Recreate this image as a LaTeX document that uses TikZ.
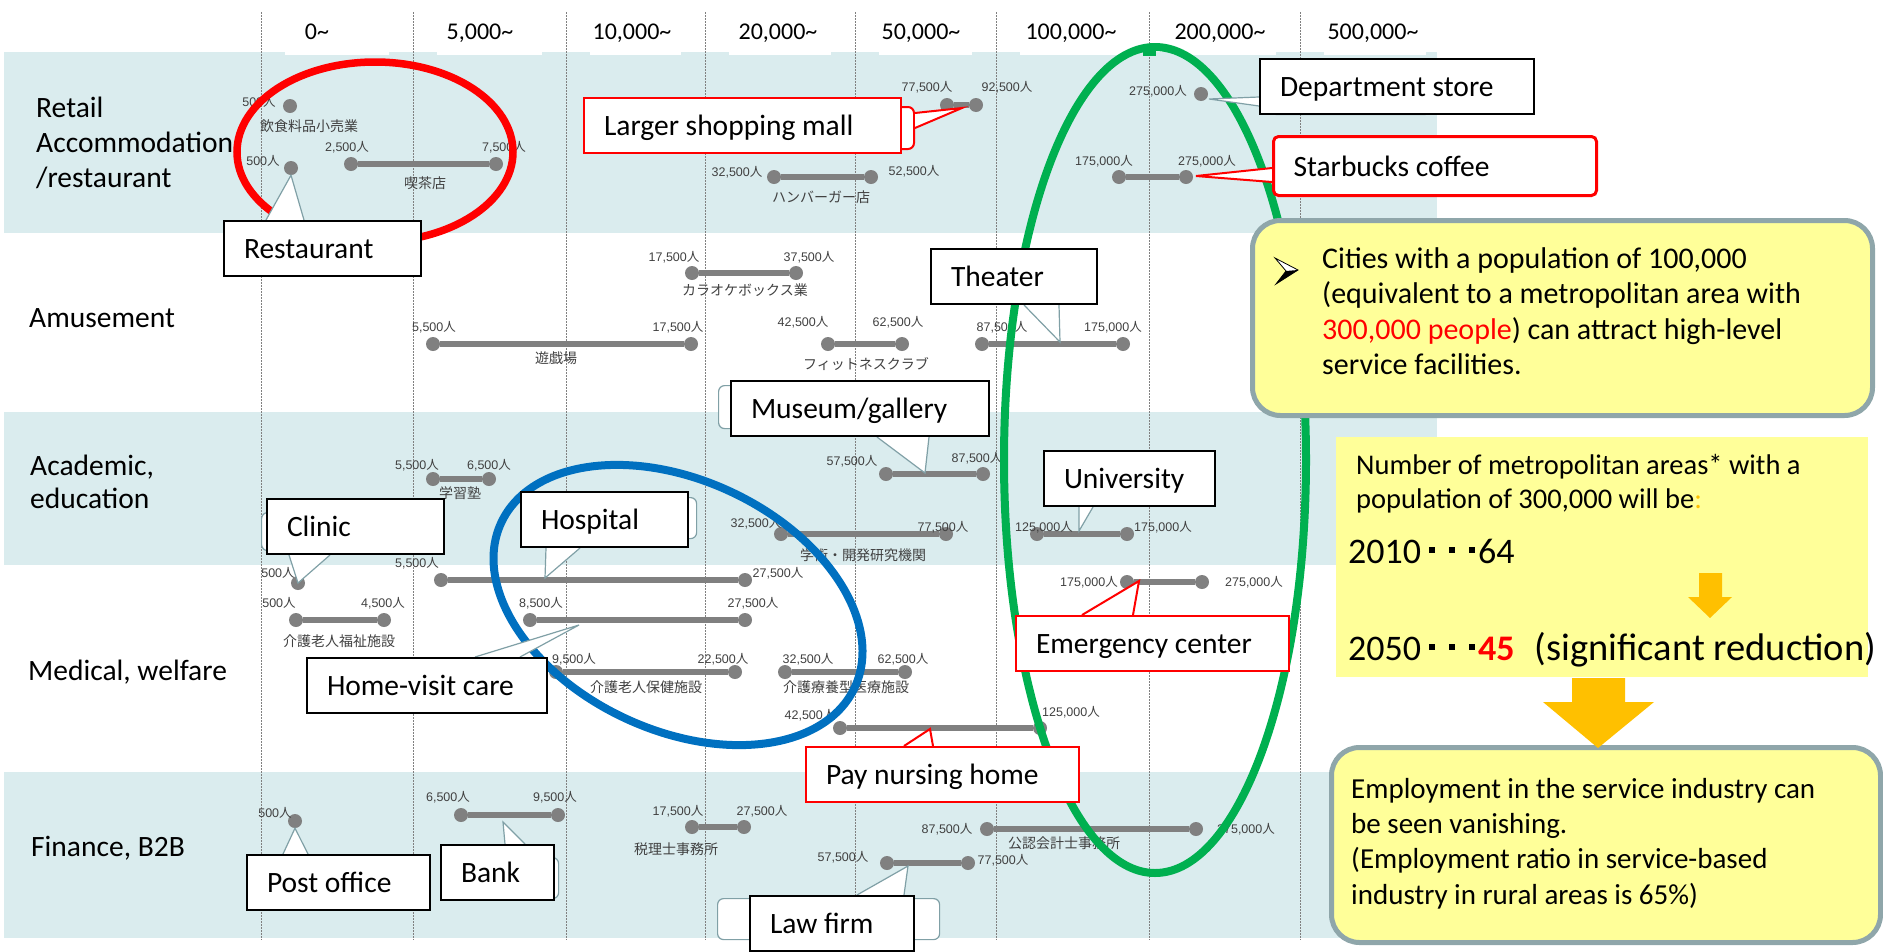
\documentclass[tikz,border=0pt]{standalone}
\usepackage{fontspec}
\setmainfont{Carlito}
\newfontfamily\numfont{Liberation Sans}
\newfontfamily\cjk{Noto Sans CJK JP}
\definecolor{band}{RGB}{218,236,238}
\definecolor{dotgray}{RGB}{128,128,128}
\definecolor{txtgray}{RGB}{64,64,64}
\definecolor{ptrcol}{RGB}{128,160,166}
\definecolor{ylw}{RGB}{255,255,153}
\definecolor{yborder}{RGB}{143,166,170}
\definecolor{orng}{RGB}{255,192,0}
\definecolor{gr}{RGB}{0,176,80}
\definecolor{bl}{RGB}{0,112,192}
\definecolor{rd}{RGB}{255,0,0}
\pgfdeclarelayer{L0}\pgfdeclarelayer{L1}\pgfdeclarelayer{L2}\pgfdeclarelayer{L3}
\pgfsetlayers{L0,L1,L2,L3,main}
\newcommand\jin{{\cjk 人}}
\newcommand\rng[4]{\node[dot] (#1a) at (#2,#4) {};\node[dot] (#1b) at (#3,#4) {};\draw[bar] (#1a) -- (#1b);}
\newcommand\lab[4]{\node[num] (#1) at (#2,#3) {#4};}
\newcommand\jl[4]{\node[jp] (#1) at (#2,#3) {#4};}
\newcommand\bx[2]{\makebox[#1pt][l]{#2}}
\newcommand\sqd{\kern8pt\rule[10pt]{6pt}{6pt}\kern14pt\rule[10pt]{6pt}{6pt}\kern14pt\rule[10pt]{6pt}{6pt}\kern3pt}
\begin{document}
\begin{tikzpicture}[x=1pt,y=-1pt,
 dot/.style={circle,fill=dotgray,minimum size=14pt,inner sep=0pt},
 bar/.style={draw=dotgray,line width=5.5pt},
 num/.style={font=\numfont\fontsize{12.5}{14}\selectfont,text=txtgray,inner sep=0pt},
 jp/.style={font=\cjk\fontsize{14}{16}\selectfont,text=txtgray,inner sep=0pt},
 hdr/.style={font=\fontsize{24}{26}\selectfont,anchor=base,inner sep=0pt},
 rowlab/.style={font=\fontsize{29.5}{31}\selectfont,anchor=base west,inner sep=0pt},
 ytxt/.style={font=\fontsize{29}{31}\selectfont,anchor=base west,inner sep=0pt},
 ybig/.style={font=\fontsize{36}{38}\selectfont,anchor=base west,inner sep=0pt},
 cbox/.style={draw=black,line width=2pt,fill=white,font=\fontsize{29.5}{31}\selectfont,anchor=north west,inner xsep=20pt,inner ysep=0pt,minimum height=55pt,text height=25pt,text depth=5pt},
 rbox/.style={cbox,draw=rd},
 ghost/.style={draw=ptrcol,line width=1.2pt,fill=white,rounded corners=6pt,inner sep=0pt,anchor=north west},
 ptr/.style={draw=ptrcol,line width=1.2pt,fill=white},
 rptr/.style={draw=rd,line width=2pt,fill=white},
 dotline/.style={draw=gray,line width=0.8pt,dash pattern=on 1.5pt off 1.5pt},
 ybox/.style={fill=ylw,anchor=north west,inner sep=0pt}
]
\useasboundingbox (0,0) rectangle (1883,951);
% ---------- background layer
\begin{pgfonlayer}{L0}
\fill[band] (4,52) rectangle (1437,233);
\fill[band] (4,412) rectangle (1437,565);
\fill[band] (4,772) rectangle (1437,938);
\foreach \a/\b in {261/413,413/566,566/705,705/855,855/996,996/1149,1149/1300,1300/1450}
  \fill[white] (\a+24,0) rectangle (\b-24,55);
\foreach \x in {261,413,566,705,855,996,1149,1300}
  \draw[dotline] (\x,12) -- (\x,940);
\node[hdr] (h0) at (317,39) {0\textasciitilde};
\node[hdr] (h1) at (480,39) {5,000\textasciitilde};
\node[hdr] (h2) at (632,39) {10,000\textasciitilde};
\node[hdr] (h3) at (778,39) {20,000\textasciitilde};
\node[hdr] (h4) at (921,39) {50,000\textasciitilde};
\node[hdr] (h5) at (1071,39) {100,000\textasciitilde};
\node[hdr] (h6) at (1220,39) {200,000\textasciitilde};
\node[hdr] (h7) at (1373,39) {500,000\textasciitilde};
\end{pgfonlayer}
% ---------- data layer
\begin{pgfonlayer}{L1}
% row 1
\node[dot] (r1s) at (290,106) {}; \lab{l1}{259}{102}{500\jin} \jl{j1}{309}{126}{飲食料品小売業}
\node[dot] (r2s) at (291,168) {}; \lab{l2}{263}{161}{500\jin}
\rng{kis}{351}{496}{164} \lab{l3}{347}{147}{2,500\jin} \lab{l4}{504}{147}{7,500\jin} \jl{j2}{425}{183}{喫茶店}
\rng{mal}{947}{976}{105} \lab{l5}{927}{87}{77,500\jin} \lab{l6}{1007}{87}{92,500\jin}
\rng{ham}{774}{871}{177} \lab{l7}{737}{172}{32,500\jin} \lab{l8}{914}{171}{52,500\jin} \jl{j3}{821}{197}{ハンバーガー店}
\node[dot] (dep) at (1201,94) {}; \lab{l9}{1158}{91}{275,000\jin}
\rng{sta}{1119}{1186}{177} \lab{l10}{1104}{161}{175,000\jin} \lab{l11}{1207}{161}{275,000\jin}
% row 2
\rng{kar}{692}{796}{273} \lab{l12}{674}{257}{17,500\jin} \lab{l13}{809}{257}{37,500\jin} \jl{j4}{745}{290}{カラオケボックス業}
\rng{yug}{433}{691}{344} \lab{l14}{434}{327}{5,500\jin} \lab{l15}{678}{327}{17,500\jin} \jl{j5}{556}{358}{遊戯場}
\rng{fit}{828}{902}{344} \lab{l16}{803}{322}{42,500\jin} \lab{l17}{898}{322}{62,500\jin} \jl{j6}{866}{364}{フィットネスクラブ}
\rng{the}{982}{1123}{344} \lab{l18}{1002}{327}{87,500\jin} \lab{l19}{1113}{327}{175,000\jin}
% row 3
\rng{gak}{433}{489}{479} \lab{l20}{417}{465}{5,500\jin} \lab{l21}{489}{465}{6,500\jin} \jl{j7}{460}{493}{学習塾}
\rng{mus}{886}{983}{474} \lab{l22}{852}{461}{57,500\jin} \lab{l23}{977}{458}{87,500\jin}
\rng{ken}{781}{946}{534} \lab{l24}{756}{523}{32,500\jin} \lab{l25}{943}{527}{77,500\jin} \jl{j8}{863}{555}{学術・開発研究機関}
\rng{uni}{1037}{1127}{534} \lab{l26}{1044}{527}{125,000\jin} \lab{l27}{1163}{527}{175,000\jin}
% row 4
\node[dot] (cli) at (298,583) {}; \lab{l28}{278}{573}{500\jin}
\rng{hos}{441}{745}{580} \lab{l29}{417}{563}{5,500\jin} \lab{l30}{778}{573}{27,500\jin}
\rng{fuk}{296}{384}{620} \lab{l31}{279}{603}{500\jin} \lab{l32}{383}{603}{4,500\jin} \jl{j9}{339}{641}{介護老人福祉施設}
\rng{hom}{530}{745}{620} \lab{l33}{541}{603}{8,500\jin} \lab{l34}{753}{603}{27,500\jin}
\rng{hok}{556}{735}{672} \lab{l35}{574}{659}{9,500\jin} \lab{l36}{723}{659}{22,500\jin} \jl{j10}{646}{687}{介護老人保健施設}
\rng{ryo}{785}{905}{672} \lab{l37}{808}{659}{32,500\jin} \lab{l38}{903}{659}{62,500\jin} \jl{j11}{846}{687}{介護療養型医療施設}
\rng{pay}{840}{1040}{728} \lab{l39}{810}{715}{42,500\jin} \lab{l40}{1071}{712}{125,000\jin}
\rng{eme}{1127}{1202}{582} \lab{l41}{1089}{582}{175,000\jin} \lab{l42}{1254}{582}{275,000\jin}
% row 5
\node[dot] (pos) at (295,821) {}; \lab{l43}{275}{813}{500\jin}
\rng{ban}{461}{558}{815} \lab{l44}{448}{797}{6,500\jin} \lab{l45}{555}{797}{9,500\jin}
\rng{zei}{692}{744}{827} \lab{l46}{678}{811}{17,500\jin} \lab{l47}{762}{811}{27,500\jin} \jl{j12}{676}{849}{税理士事務所}
\rng{kou}{987}{1196}{829} \lab{l48}{947}{829}{87,500\jin} \lab{l49}{1246}{829}{275,000\jin} \jl{j13}{1064}{843}{公認会計士事務所}
\rng{law}{887}{968}{863} \lab{l50}{843}{857}{57,500\jin} \lab{l51}{1003}{860}{77,500\jin}
\end{pgfonlayer}
% ---------- ellipses
\begin{pgfonlayer}{L2}
\draw[rd,line width=7.5pt] (375,152) ellipse [x radius=138pt, y radius=90pt];
\draw[bl,line width=8pt,rotate around={-25:(678,605)}] (678,605) ellipse [x radius=195pt, y radius=125pt];
\draw[gr,line width=8pt] (1155,460) ellipse [x radius=151pt, y radius=413pt];
\fill[gr] (1143,46) rectangle (1156,56);
\end{pgfonlayer}
% ---------- row labels
\node[rowlab] (rl1) at (36,117) {Retail};
\node[rowlab] (rl2) at (36,152) {Accommodation};
\node[rowlab] (rl3) at (36,187) {/restaurant};
\node[rowlab] (rl4) at (29,327) {Amusement};
\node[rowlab] (rl5) at (30,475) {Academic,};
\node[rowlab] (rl6) at (30,508) {education};
\node[rowlab] (rl7) at (28,680) {Medical, welfare};
\node[rowlab] (rl8) at (31,856) {Finance, B2B};
% ---------- callout boxes
\node[rbox] (mall) at (583,97) {\bx{277}{Larger shopping mall}};
\node[cbox] (dept) at (1259,58) {\bx{234}{Department store}};
\node[rbox,minimum height=59pt,rounded corners=5pt,line width=3pt] (star) at (1272,135) {\bx{283}{Starbucks coffee}};
\node[cbox] (rest) at (223,220) {\bx{157}{Restaurant}};
\node[cbox] (thea) at (930,248) {\bx{126}{Theater}};
\node[cbox] (muse) at (730,380) {\bx{218}{Museum/gallery}};
\node[cbox] (univ) at (1043,450) {\bx{131}{University}};
\node[cbox] (clin) at (266,498) {\bx{137}{Clinic}};
\node[cbox] (hosp) at (520,491) {\bx{127}{Hospital}};
\node[cbox] (home) at (306,657) {\bx{200}{Home-visit care}};
\node[rbox] (emer) at (1015,615) {\bx{233}{Emergency center}};
\node[rbox] (payn) at (805,746) {\bx{233}{Pay nursing home}};
\node[cbox] (post) at (246,854) {\bx{143}{Post office}};
\node[cbox] (bank) at (440,844) {\bx{73}{Bank}};
\node[cbox] (lawf) at (749,895) {\bx{124}{Law firm}};
% ---------- ghosts and pointers
\begin{pgfonlayer}{L3}
\node[ghost,draw=rd,line width=2pt,minimum width=323pt,minimum height=42pt] (mallg) at (590,106) {};
\node[ghost,minimum width=160pt,minimum height=44pt] (deptg) at (1270,70) {};
\node[ghost,minimum width=257pt,minimum height=43pt] (museg) at (718,385) {};
\node[ghost,minimum width=170pt,minimum height=38pt] (cling) at (261,512) {};
\node[ghost,minimum width=161pt,minimum height=41pt] (hospg) at (535,497) {};
\node[ghost,minimum width=108pt,minimum height=41pt] (bankg) at (450,857) {};
\node[ghost,minimum width=222pt,minimum height=41pt] (lawg) at (717,898) {};
\coordinate (tmall) at (962,108);
\coordinate (tdept) at (1209,99);
\coordinate (tstar) at (1196,176);
\coordinate (tthea) at (1060,342);
\coordinate (tmuse) at (925,473);
\coordinate (tuniv) at (1079,531);
\coordinate (thosp) at (545,578);
\coordinate (thome) at (579,625);
\coordinate (tbank) at (503,822);
\coordinate (tlaw) at (908,866);
\coordinate (temer) at (1139,581);
\coordinate (tpay) at (930,729);
\filldraw[rptr] ([yshift=-7pt]mallg.north east) -- (tmall) -- ([yshift=-22pt]mallg.north east);
\filldraw[ptr] ([yshift=-39pt]dept.north west) -- (tdept) -- ([yshift=-48pt]dept.north west);
\filldraw[rptr] ([yshift=-33pt]star.north west) -- (tstar) -- ([yshift=-47pt]star.north west);
\filldraw[ptr] ([xshift=43pt]rest.north west) -- (r2s.south) -- ([xshift=81pt]rest.north west);
\filldraw[ptr] ([xshift=94pt]thea.south west) -- (tthea) -- ([xshift=129pt]thea.south west);
\filldraw[ptr] ([xshift=147pt]muse.south west) -- (tmuse) -- ([xshift=199pt]muse.south west);
\filldraw[ptr] ([xshift=36pt]univ.south west) -- (tuniv) -- ([xshift=50pt]univ.south west);
\filldraw[ptr] ([xshift=23pt]clin.south west) -- (cli.center) -- ([xshift=64pt]clin.south west);
\filldraw[ptr] ([xshift=26pt]hosp.south west) -- (thosp) -- ([xshift=60pt]hosp.south west);
\filldraw[ptr] ([xshift=169pt]home.north west) -- (thome) -- ([xshift=214pt]home.north west);
\filldraw[ptr] ([xshift=37pt]post.north west) -- (pos.south) -- ([xshift=62pt]post.north west);
\filldraw[ptr] ([xshift=65pt]bank.north west) -- (tbank) -- ([xshift=85pt]bank.north west);
\filldraw[ptr] ([xshift=108pt]lawf.north west) -- (tlaw) -- ([xshift=155pt]lawf.north west);
\filldraw[rptr] ([xshift=67pt]emer.north west) -- (temer) -- ([xshift=118pt]emer.north west);
\filldraw[rptr] ([xshift=99pt]payn.north west) -- (tpay) -- ([xshift=128pt]payn.north west);
\end{pgfonlayer}
% ---------- right-hand yellow panels
\node[ybox,draw=yborder,line width=5pt,rounded corners=28pt,minimum width=620pt,minimum height=195pt] (y1) at (1250,218) {};
\filldraw[black,line width=0.8pt,fill=white] (1275,258) -- (1298,270) -- (1276,284) -- (1286,271) -- cycle;
\fill[black] (1286,271) -- (1298,270) -- (1276,284) -- cycle;
\node[ytxt,font=\fontsize{30}{32}\selectfont] (y1a) at (1322,268) {Cities with a population of 100,000};
\node[ytxt,font=\fontsize{30}{32}\selectfont] (y1b) at (1322,303) {(equivalent to a metropolitan area with};
\node[ytxt,font=\fontsize{30}{32}\selectfont] (y1c) at (1322,339) {\textcolor{rd}{300,000 people}) can attract high-level};
\node[ytxt,font=\fontsize{30}{32}\selectfont] (y1d) at (1322,374) {service facilities.};
\node[ybox,minimum width=532pt,minimum height=240pt] (y2) at (1336,437) {};
\node[ytxt,font=\fontsize{28.5}{30}\selectfont] (y2a) at (1356,474) {Number of metropolitan areas* with a};
\node[ytxt,font=\fontsize{28.5}{30}\selectfont] (y2b) at (1356,508) {population of 300,000 will be\textcolor{orng}{:}};
\node[ybig] (y2c) at (1348,563) {2010\sqd 64};
\node[ybig] (y2d) at (1348,660) {2050\sqd\textcolor{rd}{\bfseries 45}\hspace{20pt}{\fontsize{38.5}{40}\selectfont(significant reduction)}};
\fill[orng] (1699,573) -- (1722,573) -- (1722,597) -- (1732,597) -- (1710,618) -- (1688,597) -- (1699,597) -- cycle;
\node[ybox,draw=yborder,line width=5pt,rounded corners=28pt,minimum width=549pt,minimum height=195pt] (y3) at (1329,745) {};
\fill[orng] (1572,678) -- (1625,678) -- (1625,702) -- (1654,702) -- (1598,748) -- (1543,702) -- (1572,702) -- cycle;
\node[ytxt] (y3a) at (1351,798) {Employment in the service industry can};
\node[ytxt] (y3b) at (1351,833) {be seen vanishing.};
\node[ytxt] (y3c) at (1351,868) {(Employment ratio in service-based};
\node[ytxt] (y3d) at (1351,904) {industry in rural areas is 65\%)};
\end{tikzpicture}
\end{document}
